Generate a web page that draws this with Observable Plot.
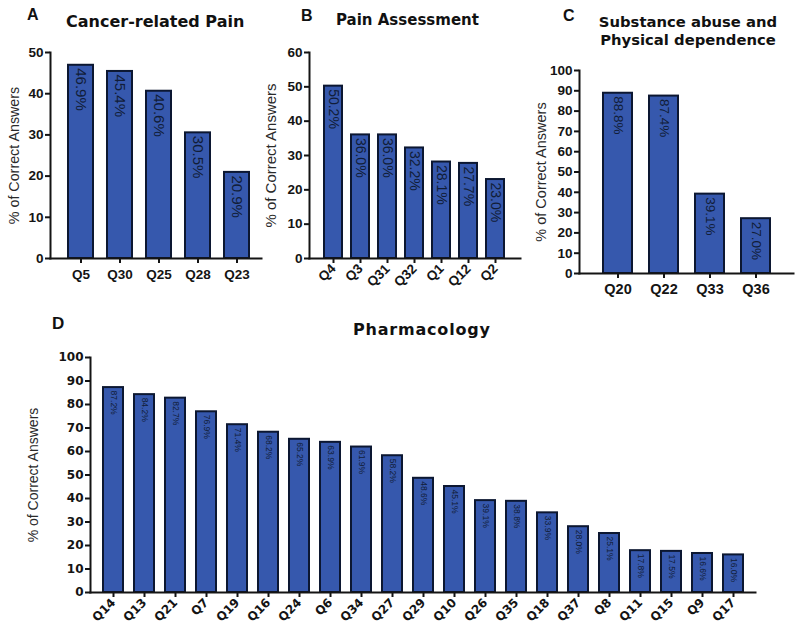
<!DOCTYPE html>
<html><head><meta charset="utf-8">
<script src="https://cdn.jsdelivr.net/npm/d3@7"></script>
<script src="https://cdn.jsdelivr.net/npm/@observablehq/plot@0.6"></script>
<style>
body{margin:0;background:#fff;font-family:"Liberation Sans",Arial,sans-serif;}
#wrap{position:relative;width:800px;height:632px;overflow:hidden;background:#fff;}
.panel{position:absolute;}
.t{position:absolute;font-weight:bold;color:#111;white-space:nowrap;line-height:1;}
.tt{font-family:"DejaVu Sans",sans-serif;}
.lt{font-family:"Liberation Sans",Arial,sans-serif;}
.panel g[aria-label$="tick label"] text, .panel g[aria-label$="tick label"]{font-weight:bold;}
</style></head><body>
<div id="wrap">
  <div class="t lt" style="left:27px;top:7px;font-size:16px;">A</div>
  <div class="t tt" style="left:66px;top:13.5px;font-size:16px;">Cancer-related Pain</div>
  <div class="t lt" style="left:301px;top:8px;font-size:16px;">B</div>
  <div class="t tt" style="left:336px;top:13.3px;font-size:15px;">Pain Assessment</div>
  <div class="t lt" style="left:563px;top:8px;font-size:16px;">C</div>
  <div class="t tt" style="left:588px;width:200px;top:12.9px;font-size:14.8px;line-height:18px;text-align:center;white-space:normal;">Substance abuse and<br>Physical dependence</div>
  <div class="t lt" style="left:52px;top:315px;font-size:17px;">D</div>
  <div class="t tt" style="left:353px;top:321.5px;font-size:16px;letter-spacing:0.8px;">Pharmacology</div>
  <div id="pA" class="panel" style="left:0px;top:40px;"></div>
  <div id="pB" class="panel" style="left:260px;top:40px;"></div>
  <div id="pC" class="panel" style="left:530px;top:40px;"></div>
  <div id="pD" class="panel" style="left:0px;top:310px;"></div>
</div>
<script>
// ---- data ----
const catsA = ["Q5","Q30","Q25","Q28","Q23"];
const valsA = [46.9,45.4,40.6,30.5,20.9];
const ticksA = [0,10,20,30,40,50];

const catsB = ["Q4","Q3","Q31","Q32","Q1","Q12","Q2"];
const valsB = [50.2,36.0,36.0,32.2,28.1,27.7,23.0];
const ticksB = [0,10,20,30,40,50,60];

const catsC = ["Q20","Q22","Q33","Q36"];
const valsC = [88.8,87.4,39.1,27.0];
const ticksC = [0,10,20,30,40,50,60,70,80,90,100];

const catsD = ["Q14","Q13","Q21","Q7","Q19","Q16","Q24","Q6","Q34","Q27","Q29","Q10","Q26","Q35","Q18","Q37","Q8","Q11","Q15","Q9","Q17"];
const valsD = [87.2,84.2,82.7,76.9,71.4,68.2,65.2,63.9,61.9,58.2,48.6,45.1,39.1,38.8,33.9,28.0,25.1,17.8,17.5,16.6,16.0];
const ticksD = [0,10,20,30,40,50,60,70,80,90,100];

const yLabel = "% of Correct Answers";

const BAR = "#3658ad", EDGE = "#0c1731", LAB = "#111d38", AX = "#141414";

function panel(o) {
  const data = o.cats.map((q, i) => ({q, v: o.vals[i]}));
  const yMax = o.ticks[o.ticks.length - 1];
  return Plot.plot({
    width: o.width, height: o.height,
    marginLeft: o.ml, marginRight: o.mr, marginTop: o.mt, marginBottom: o.mb,
    style: {background: "transparent", fontFamily: "'Liberation Sans', Arial, sans-serif", overflow: "visible", color: AX},
    x: {domain: o.cats, paddingInner: o.pad, paddingOuter: 0, insetLeft: o.insL, insetRight: o.insR, label: null},
    y: {domain: [0, yMax], label: null},
    marks: [
      Plot.barY(data, {x: "q", y: "v", fill: BAR, stroke: EDGE, strokeWidth: o.bw || 2}),
      Plot.text(data, {x: "q", y: "v", text: d => d.v.toFixed(1) + "%", rotate: 90, textAnchor: "start", lineAnchor: "middle", dy: o.labDy, fill: LAB, fontSize: o.barFont, fontWeight: o.barW || "normal", fontFamily: o.barFam || "'Liberation Sans', Arial, sans-serif"}),
      Plot.frame({anchor: "left", stroke: AX, strokeWidth: 2}),
      Plot.frame({anchor: "bottom", stroke: AX, strokeWidth: 2}),
      Plot.axisY({ticks: o.ticks, tickSize: 5, tickPadding: 2, strokeWidth: 2, fontWeight: "bold", fontSize: o.yFont, fontFamily: o.tickFam, label: null, fill: AX}),
      Plot.axisX({tickSize: 5, strokeWidth: 2, tickRotate: o.rot || 0, tickPadding: o.xPad, fontWeight: "bold", fontSize: o.xFont, fontFamily: o.tickFam, label: null, fill: AX}),
      Plot.text([yLabel], {frameAnchor: "left", text: d => d, rotate: -90, textAnchor: "middle", lineAnchor: "top", dx: o.labOff, fontSize: o.labFont, fill: "#2a2a2a"})
    ]
  });
}

const LS = "'Liberation Sans', Arial, sans-serif";
const DJ = "'DejaVu Sans', sans-serif";

document.getElementById("pA").appendChild(panel({
  cats: catsA, vals: valsA, ticks: ticksA, width: 265, height: 260,
  ml: 50, mr: 4, mt: 12, mb: 42, pad: 0.36, insL: 17, insR: 12,
  yFont: 13.5, xFont: 13.5, xPad: 6, tickFam: LS, barFont: 15, labDy: 3, labOff: -42, labFont: 14.3
}));
document.getElementById("pB").appendChild(panel({
  cats: catsB, vals: valsB, ticks: ticksB, width: 265, height: 260,
  ml: 49, mr: 5, mt: 12, mb: 42, pad: 0.32, insL: 12, insR: 12,
  yFont: 13.5, xFont: 13.5, xPad: 3, rot: -45, tickFam: LS, barFont: 14, labDy: 3, labOff: -44, labFont: 15
}));
document.getElementById("pC").appendChild(panel({
  cats: catsC, vals: valsC, ticks: ticksC, width: 270, height: 270,
  ml: 49, mr: 7, mt: 30, mb: 37, pad: 0.36, insL: 22, insR: 21,
  yFont: 13.5, xFont: 14.5, xPad: 5, tickFam: LS, barFont: 13.5, labDy: 3, labOff: -44, labFont: 14.5
}));
document.getElementById("pD").appendChild(panel({
  cats: catsD, vals: valsD, ticks: ticksD, width: 800, height: 322,
  ml: 90, mr: 45, mt: 47, mb: 40, pad: 0.37, insL: 13, insR: 12,
  yFont: 12, xFont: 12, xPad: 3, rot: -45, tickFam: DJ, barFont: 8.5, labDy: 3, labOff: -62, labFont: 14
}));
</script>
</body></html>
